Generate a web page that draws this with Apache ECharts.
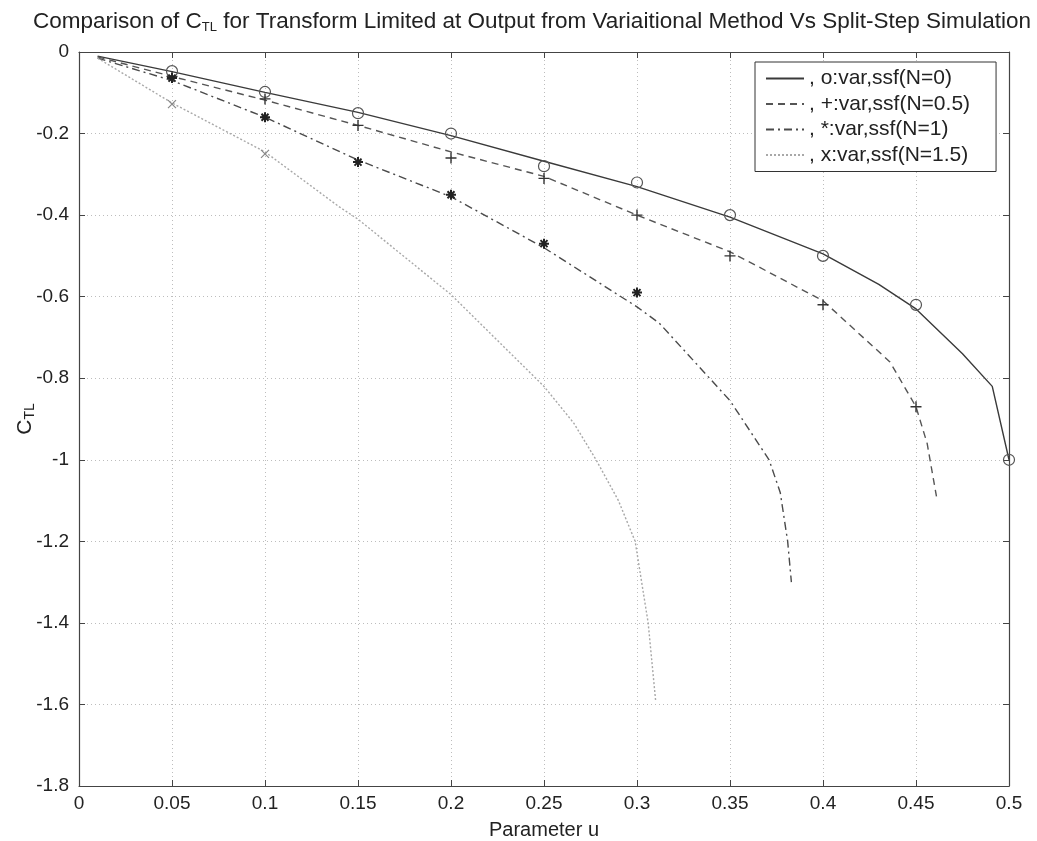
<!DOCTYPE html>
<html>
<head>
<meta charset="utf-8">
<script src="https://cdn.jsdelivr.net/npm/echarts@6/dist/echarts.min.js"></script>
<style>html,body{margin:0;padding:0;background:#fff}#c{width:1037px;height:841px}</style>
</head>
<body>
<div id="c"></div>
<script>
// ---- data ----
const uSolid = [0.01, 0.05, 0.1, 0.15, 0.2, 0.25, 0.3, 0.35, 0.4, 0.43, 0.45, 0.475, 0.491, 0.5];
const cSolid = [-0.01, -0.048, -0.099, -0.148, -0.205, -0.268, -0.33, -0.405, -0.495, -0.57, -0.63, -0.74, -0.82, -1.0];

const uDash = [0.01, 0.05, 0.1, 0.15, 0.2, 0.25, 0.3, 0.35, 0.4, 0.436, 0.45, 0.456, 0.461];
const cDash = [-0.012, -0.06, -0.118, -0.18, -0.245, -0.305, -0.40, -0.49, -0.61, -0.76, -0.87, -0.96, -1.09];

const uDashDot = [0.01, 0.05, 0.1, 0.15, 0.2, 0.25, 0.3, 0.312, 0.339, 0.35, 0.371, 0.377, 0.381, 0.383];
const cDashDot = [-0.015, -0.07, -0.16, -0.265, -0.355, -0.48, -0.625, -0.665, -0.80, -0.855, -1.0, -1.08, -1.2, -1.30];

const uDot = [0.01, 0.05, 0.1, 0.14, 0.15, 0.2, 0.23, 0.25, 0.266, 0.278, 0.29, 0.299, 0.306, 0.31];
const cDot = [-0.015, -0.125, -0.245, -0.38, -0.41, -0.595, -0.73, -0.82, -0.91, -1.0, -1.1, -1.2, -1.4, -1.59];

const uCircle = [0.05, 0.1, 0.15, 0.2, 0.25, 0.3, 0.35, 0.4, 0.45, 0.5];
const cCircle = [-0.047, -0.098, -0.15, -0.2, -0.28, -0.32, -0.40, -0.50, -0.62, -1.0];

const uPlus = [0.05, 0.1, 0.15, 0.2, 0.25, 0.3, 0.35, 0.4, 0.45];
const cPlus = [-0.06, -0.115, -0.18, -0.26, -0.31, -0.40, -0.50, -0.62, -0.87];

const uStar = [0.05, 0.1, 0.15, 0.2, 0.25, 0.3];
const cStar = [-0.064, -0.16, -0.27, -0.35, -0.47, -0.59];

const uCross = [0.05, 0.1];
const cCross = [-0.128, -0.25];

const legendNames = [', o:var,ssf(N=0)', ', +:var,ssf(N=0.5)', ', *:var,ssf(N=1)', ', x:var,ssf(N=1.5)'];
const titleText = 'Comparison of C{sub|TL} for Transform Limited at Output from Variaitional Method Vs Split-Step Simulation';
const xName = 'Parameter u';
const yName = 'C{sub|TL}';

const zip = (a, b) => a.map((v, i) => [v, b[i]]);
const FONT = 'Liberation Sans, Arial, sans-serif';
const fmt = v => String(+(+v).toFixed(2));

const chart = echarts.init(document.getElementById('c'), null, {renderer: 'canvas'});

const lineSeries = (name, u, c, color, type, width) => ({
  name, type: 'line', data: zip(u, c), symbol: 'none', showSymbol: false, smooth: false,
  lineStyle: {color, type, width}, itemStyle: {color}, z: 3, animation: false
});
const markSeries = (u, c, symbol, size, color, bw) => ({
  type: 'scatter', data: zip(u, c), symbol, symbolSize: size,
  itemStyle: {color: 'rgba(0,0,0,0)', borderColor: color, borderWidth: bw, opacity: 1},
  z: 4, animation: false, silent: true
});

chart.setOption({
  backgroundColor: '#fff',
  animation: false,
  textStyle: {fontFamily: FONT},
  title: {
    text: titleText, left: 28, top: 5,
    textStyle: {fontFamily: FONT, fontSize: 22.5, fontWeight: 'normal', color: '#222',
      rich: {sub: {fontFamily: FONT, fontSize: 13, color: '#222', padding: [11, 0, 0, 0], verticalAlign: 'bottom'}}}
  },
  legend: {
    orient: 'vertical', left: 755, top: 62,
    data: legendNames,
    itemWidth: 38, itemHeight: 14, itemGap: 4.5,
    padding: [6, 26, 6, 10],
    backgroundColor: '#fff', borderColor: '#333', borderWidth: 1,
    itemStyle: {opacity: 0, borderWidth: 0},
    textStyle: {fontFamily: FONT, fontSize: 21, color: '#222', lineHeight: 20},
    selectedMode: false
  },
  grid: {left: 79, right: 28, top: 52, bottom: 55, containLabel: false, outerBoundsMode: 'none'},
  xAxis: [{
    type: 'value', min: 0, max: 0.5, interval: 0.05, position: 'bottom',
    name: xName, nameLocation: 'middle', nameGap: 34,
    nameTextStyle: {fontFamily: FONT, fontSize: 20, color: '#222'},
    axisLine: {show: true, onZero: false, lineStyle: {color: '#444', width: 1.2}},
    axisTick: {show: true, inside: true, length: 6, lineStyle: {color: '#444'}},
    axisLabel: {fontFamily: FONT, fontSize: 19, color: '#222', margin: 8, formatter: fmt},
    splitLine: {show: true, lineStyle: {color: '#bdbdbd', type: [1, 3], width: 1}}
  }, {
    type: 'value', min: 0, max: 0.5, interval: 0.05, position: 'top',
    axisLine: {show: true, onZero: false, lineStyle: {color: '#444', width: 1.2}},
    axisTick: {show: true, inside: true, length: 6, lineStyle: {color: '#444'}},
    axisLabel: {show: false}, splitLine: {show: false}
  }],
  yAxis: [{
    type: 'value', min: -1.8, max: 0, interval: 0.2, position: 'left',
    name: yName, nameLocation: 'middle', nameGap: 42, nameRotate: 90, nameMoveOverlap: false,
    nameTextStyle: {fontFamily: FONT, fontSize: 21, color: '#222',
      rich: {sub: {fontFamily: FONT, fontSize: 14, color: '#222', padding: [10, 0, 0, 0], verticalAlign: 'bottom'}}},
    axisLine: {show: true, onZero: false, lineStyle: {color: '#444', width: 1.2}},
    axisTick: {show: true, inside: true, length: 6, lineStyle: {color: '#444'}},
    axisLabel: {fontFamily: FONT, fontSize: 19, color: '#222', margin: 10, formatter: fmt},
    splitLine: {show: true, lineStyle: {color: '#bdbdbd', type: [1, 3], width: 1}}
  }, {
    type: 'value', min: -1.8, max: 0, interval: 0.2, position: 'right',
    axisLine: {show: true, onZero: false, lineStyle: {color: '#444', width: 1.2}},
    axisTick: {show: true, inside: true, length: 6, lineStyle: {color: '#444'}},
    axisLabel: {show: false}, splitLine: {show: false}
  }],
  series: [
    lineSeries(legendNames[0], uSolid, cSolid, '#3a3a3a', 'solid', 1.4),
    lineSeries(legendNames[1], uDash, cDash, '#555555', [7, 5], 1.4),
    lineSeries(legendNames[2], uDashDot, cDashDot, '#4a4a4a', [8, 4, 2, 4], 1.4),
    lineSeries(legendNames[3], uDot, cDot, '#a8a8a8', [2, 2], 1.4),
    markSeries(uCircle, cCircle, 'circle', 11, '#555', 1.2),
    markSeries(uPlus, cPlus, 'path://M5,0L5,10M0,5L10,5', 11, '#333', 1.4),
    markSeries(uStar, cStar, 'path://M5,0L5,10M0,5L10,5M1.5,1.5L8.5,8.5M8.5,1.5L1.5,8.5', 10, '#222', 2),
    markSeries(uCross, cCross, 'path://M0,0L10,10M10,0L0,10', 8, '#888', 1.2)
  ]
});
</script>
</body>
</html>
